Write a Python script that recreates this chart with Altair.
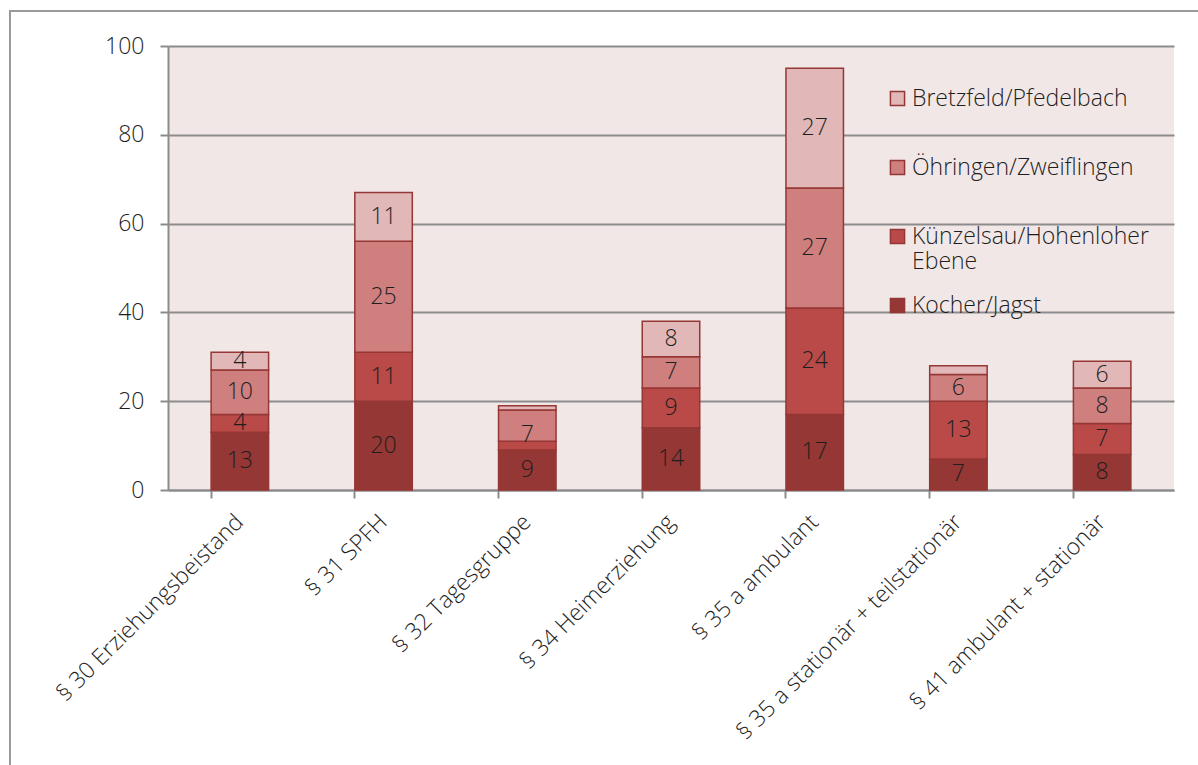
import altair as alt
import pandas as pd

# Hilfeart categories and district series
categories = [
    "§ 30 Erziehungsbeistand",
    "§ 31 SPFH",
    "§ 32 Tagesgruppe",
    "§ 34 Heimerziehung",
    "§ 35 a ambulant",
    "§ 35 a stationär + teilstationär",
    "§ 41 ambulant + stationär",
]
series = [
    "Kocher/Jagst",
    "Künzelsau/Hohenloher Ebene",
    "Öhringen/Zweiflingen",
    "Bretzfeld/Pfedelbach",
]
kocher = [13, 20, 9, 14, 17, 7, 8]
kuenzelsau = [4, 11, 2, 9, 24, 13, 7]
oehringen = [10, 25, 7, 7, 27, 6, 8]
bretzfeld = [4, 11, 1, 8, 27, 2, 6]
colors = ["#953735", "#b94a48", "#cf7f7e", "#e1b7b7"]

rows = []
for s_idx, (name, vals) in enumerate(zip(series, [kocher, kuenzelsau, oehringen, bretzfeld])):
    for c, v in zip(categories, vals):
        rows.append({"kategorie": c, "bezirk": name, "idx": s_idx, "wert": v})
df = pd.DataFrame(rows)

font = "Open Sans"
weight = 300
fsize = 23
txt_color = "#1e1e1e"
legend_order = series[::-1]

base = alt.Chart(df)

bars = base.mark_bar(stroke="#953735", strokeWidth=1.5).encode(
    x=alt.X(
        "kategorie:N",
        sort=categories,
        title=None,
        scale=alt.Scale(paddingInner=0.6, paddingOuter=0.3),
        axis=alt.Axis(
            labelAngle=-45,
            labelAlign="right",
            labelBaseline="middle",
            labelFontSize=fsize,
            labelFont=font,
            labelFontWeight=weight,
            labelColor=txt_color,
            labelPadding=20,
            labelLimit=400,
            bandPosition=0,
            tickSize=8,
            tickColor="#8c8c8c",
            tickWidth=2,
            domainColor="#8c8c8c",
            domainWidth=2,
            grid=False,
        ),
    ),
    y=alt.Y(
        "wert:Q",
        stack="zero",
        title=None,
        scale=alt.Scale(domain=[0, 100]),
        axis=alt.Axis(
            values=[0, 20, 40, 60, 80, 100],
            labelFontSize=fsize,
            labelFont=font,
            labelFontWeight=weight,
            labelColor=txt_color,
            labelPadding=16,
            tickSize=8,
            tickColor="#8c8c8c",
            tickWidth=2,
            domainColor="#8c8c8c",
            domainWidth=2,
            gridColor="#8c8c8c",
            gridWidth=2,
        ),
    ),
    color=alt.Color(
        "bezirk:N",
        sort=legend_order,
        scale=alt.Scale(domain=legend_order, range=colors[::-1]),
        legend=alt.Legend(
            title=None,
            orient="none",
            legendX=718,
            legendY=41,
            symbolType="square",
            symbolSize=200,
            symbolStrokeColor="#953735",
            symbolStrokeWidth=1.5,
            labelFontSize=fsize,
            labelFont=font,
            labelFontWeight=weight,
            labelColor=txt_color,
            labelLimit=400,
            rowPadding=20,
            labelOffset=3,
            # every entry takes two lines so the rows keep an even pitch
            labelExpr="datum.label == 'Künzelsau/Hohenloher Ebene' ? ['Künzelsau/Hohenloher', 'Ebene'] : [datum.label, ' ']",
        ),
    ),
    order=alt.Order("idx:Q", sort="ascending"),
)

labels = (
    base.transform_filter("datum.wert >= 3")
    .transform_stack(
        stack="wert",
        groupby=["kategorie"],
        as_=["y0", "y1"],
        sort=[alt.SortField("idx", order="ascending")],
    )
    .transform_calculate(mitte="(datum.y0 + datum.y1) / 2")
    .mark_text(fontSize=fsize, font=font, fontWeight=weight, color=txt_color, baseline="middle")
    .encode(
        x=alt.X("kategorie:N", sort=categories),
        y=alt.Y("mitte:Q"),
        text="wert:Q",
    )
)

# outer chart frame
frame = (
    alt.Chart(pd.DataFrame({"a": [0]}))
    .mark_rect(fill=None, stroke="#9a9a9a", strokeWidth=2, clip=False)
    .encode(
        x=alt.value(-158),
        x2=alt.value(1060),
        y=alt.value(-35),
        y2=alt.value(740),
    )
)

chart = (
    alt.layer(frame, bars, labels)
    .properties(
        width=1006,
        height=444,
        autosize=alt.AutoSizeParams(type="none"),
        padding={"left": 168, "top": 46, "right": 24, "bottom": 275},
        background="white",
    )
    .configure_view(fill="#f2e7e7", stroke=None)
)

chart.save("out.html", embed_options={"renderer": "svg", "actions": False})
